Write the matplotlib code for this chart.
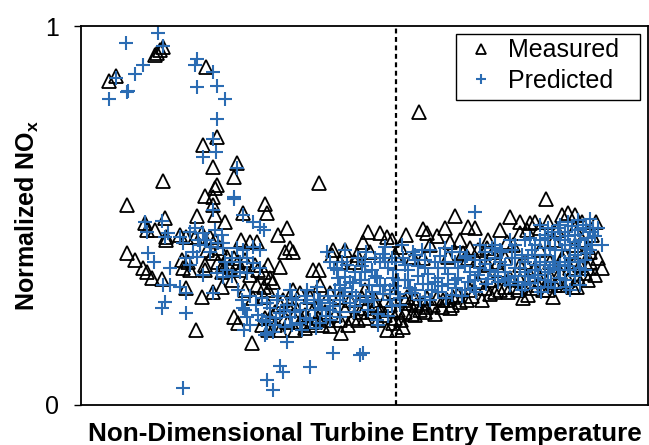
import numpy as np
import matplotlib; matplotlib.use("Agg")
import matplotlib.pyplot as plt
from matplotlib.patches import Rectangle

# x: non-dimensional TET (0-100 scale, axis unlabelled), y: normalized NOx
measured = np.array([
    (5.0, .856), (6.2, .868), (13.1, .923), (13.4, .929), (13.9, .937), (14.5, .945), (22.0, .893),
    (24.0, .706), (21.5, .686), (23.3, .629), (27.6, .639), (27.0, .601), (14.4, .592), (23.9, .580),
    (23.6, .573), (21.9, .551), (23.3, .549), (8.1, .528), (32.5, .530), (32.8, .506), (28.6, .506),
    (25.4, .484), (41.9, .585), (59.7, .774), (23.3, .528), (20.4, .499), (23.6, .501), (14.8, .493),
    (11.3, .479), (11.6, .462), (13.1, .462), (15.0, .444), (15.0, .435), (17.5, .449), (18.6, .444),
    (20.1, .444), (21.3, .453), (22.8, .444), (23.6, .435), (22.2, .409), (23.3, .400), (24.5, .413),
    (8.1, .400), (9.5, .383), (11.0, .361), (11.6, .352), (12.5, .334), (14.2, .332), (17.8, .383),
    (18.9, .378), (18.0, .361), (19.2, .356), (21.9, .369), (21.9, .356), (24.2, .378), (24.8, .352),
    (18.6, .308), (21.3, .286), (23.3, .299), (24.8, .312), (20.3, .198), (36.3, .466), (34.8, .449),
    (28.3, .435), (29.8, .431), (31.0, .431), (36.9, .413), (37.4, .404), (36.0, .404), (25.7, .391),
    (26.9, .387), (27.7, .378), (28.9, .383), (25.1, .369), (26.3, .365), (33.0, .369), (35.1, .365),
    (31.3, .356), (32.2, .352), (41.0, .356), (41.9, .356), (44.5, .409), (44.2, .396), (48.6, .396),
    (49.2, .369), (46.6, .409), (33.3, .334), (33.9, .325), (31.0, .317), (32.2, .312), (42.2, .317),
    (30.4, .282), (32.2, .286), (26.9, .233), (27.7, .216), (31.9, .211), (30.1, .164), (45.8, .189),
    (37.4, .303), (38.6, .295), (35.7, .277), (36.9, .268), (40.4, .286), (43.9, .295), (45.7, .286),
    (38.1, .251), (39.5, .237), (40.7, .245), (41.8, .230), (43.0, .245), (38.6, .219), (40.4, .211),
    (42.5, .211), (43.6, .224), (34.2, .245), (36.0, .230), (36.9, .251), (35.1, .264), (33.3, .230),
    (44.8, .237), (46.6, .251), (48.0, .230), (49.2, .245), (50.1, .230), (51.3, .245), (52.4, .224),
    (53.6, .237), (55.1, .216), (53.9, .198), (55.7, .198), (56.5, .224), (56.8, .207), (52.7, .251),
    (50.7, .457), (52.7, .453), (53.9, .444), (57.4, .449), (60.4, .464), (61.0, .453), (62.7, .446),
    (64.2, .466), (66.0, .499), (68.3, .470), (69.5, .466), (65.1, .431), (49.8, .431), (51.0, .404),
    (55.4, .396), (58.6, .391), (60.4, .387), (64.8, .391), (68.6, .413), (67.4, .400), (70.1, .409),
    (71.6, .413), (72.7, .404), (68.3, .387), (69.8, .383), (58.0, .269), (59.1, .264), (60.9, .259),
    (62.1, .264), (63.7, .259), (65.4, .264), (66.8, .272), (68.1, .277), (57.5, .285), (61.0, .282),
    (63.8, .277), (65.6, .285), (65.1, .255), (70.7, .277), (57.1, .245), (58.4, .240), (59.8, .251),
    (55.9, .251), (54.5, .264), (51.9, .277), (49.6, .282), (47.4, .277), (50.1, .303), (55.4, .298),
    (68.6, .303), (71.3, .309), (73.0, .298), (70.0, .325), (72.1, .330), (82.0, .543), (75.7, .495),
    (80.1, .484), (82.4, .484), (79.2, .479), (84.8, .501), (85.9, .506), (87.1, .501), (88.3, .484),
    (89.5, .418), (91.8, .361), (78.0, .282), (83.3, .286), (87.4, .312), (88.9, .347), (89.5, .361),
    (77.4, .453), (78.6, .462), (75.1, .431), (76.2, .422), (74.8, .311), (76.5, .311), (79.7, .309),
    (81.5, .303), (85.0, .317), (86.8, .311), (75.7, .335), (77.4, .330), (79.2, .343), (81.0, .330),
    (82.7, .340), (84.5, .351), (86.2, .361), (88.0, .369), (89.8, .377), (83.6, .317), (73.9, .356),
    (78.3, .377), (85.4, .396), (87.1, .422), (81.0, .409), (83.5, .435), (88.4, .435), (90.1, .449),
    (84.0, .462), (73.5, .377), (74.8, .388), (71.8, .369),
    (32.5, .230), (34.2, .211), (36.5, .219), (37.7, .198), (39.5, .203), (41.3, .219), (43.9, .208),
    (45.7, .224), (47.1, .211), (48.9, .224), (50.1, .256), (51.9, .264), (53.6, .277), (55.4, .230),
    (35.1, .198), (33.0, .198), (58.9, .282), (60.3, .269), (62.8, .282), (64.6, .277), (66.5, .290),
    (69.0, .288), (72.1, .293), (73.9, .303), (57.1, .277), (58.9, .237), (60.7, .245), (62.4, .240),
    (75.3, .298), (77.1, .303), (78.8, .290), (80.6, .317), (82.4, .303), (84.1, .325), (85.9, .330),
    (87.7, .335), (89.4, .330), (90.7, .343), (77.4, .369), (80.1, .361), (82.7, .377), (84.8, .388),
    (87.1, .377), (89.8, .404), (91.2, .388), (45.7, .377), (48.3, .377), (54.9, .435), (56.3, .417),
    (61.6, .422), (66.8, .435), (71.8, .435), (73.9, .462), (77.4, .483), (81.0, .467), (87.1, .467),
    (90.8, .483), (28.0, .356), (29.8, .343), (26.6, .330), (28.9, .303), (33.0, .303), (30.7, .369),
])

predicted = np.array([
    (13.6, .982), (7.9, .956), (14.4, .947), (20.5, .912), (20.1, .897), (23.3, .879), (11.0, .897),
    (9.6, .873), (6.2, .862), (8.3, .829), (8.1, .827), (4.9, .807), (20.4, .838), (23.9, .842),
    (25.4, .807), (23.9, .754), (23.3, .702), (23.8, .668), (21.5, .655), (27.6, .625), (27.0, .548),
    (23.3, .515), (28.6, .501), (11.3, .484), (14.2, .486), (11.6, .457), (14.8, .444), (15.4, .453),
    (19.2, .457), (20.1, .466), (21.6, .453), (22.2, .435), (21.0, .422), (23.0, .418), (24.2, .427),
    (25.1, .413), (19.8, .404), (20.4, .391), (18.6, .387), (19.2, .369), (18.0, .427), (17.5, .444),
    (11.9, .400), (12.8, .378), (15.7, .361), (21.6, .343), (23.9, .347), (25.1, .339), (14.5, .317),
    (15.7, .317), (17.5, .311), (18.6, .295), (23.3, .295), (14.8, .273), (14.2, .255), (18.6, .242),
    (18.0, .044), (28.6, .255), (29.2, .233), (32.5, .185), (26.9, .543), (30.4, .484), (31.6, .470),
    (32.2, .462), (24.8, .449), (25.1, .427), (27.5, .413), (28.6, .409), (30.4, .418), (31.6, .409),
    (29.2, .387), (30.4, .374), (31.6, .361), (25.7, .356), (28.0, .352), (29.2, .347), (27.7, .303),
    (43.3, .404), (46.6, .409), (45.1, .356), (46.6, .339), (48.0, .321), (49.2, .330), (41.6, .312),
    (39.8, .303), (36.9, .303), (32.8, .269), (34.5, .277), (36.3, .264), (38.0, .277), (39.8, .269),
    (42.2, .277), (43.9, .269), (45.7, .277), (47.4, .269), (49.2, .277), (28.9, .251), (33.3, .232),
    (35.1, .243), (36.9, .232), (38.6, .216), (40.4, .224), (42.2, .216), (43.9, .224), (45.7, .232),
    (31.9, .224), (34.2, .211), (37.7, .245), (41.3, .251), (36.0, .206), (32.8, .189), (33.9, .193),
    (36.3, .167), (44.5, .138), (49.2, .132), (35.1, .103), (35.7, .088), (40.4, .101), (32.8, .066),
    (33.9, .040), (50.1, .377), (51.3, .356), (52.7, .377), (54.1, .361), (55.4, .377), (49.4, .330),
    (50.8, .317), (52.2, .335), (53.6, .317), (55.0, .335), (50.3, .288), (51.7, .277), (53.2, .293),
    (54.5, .277), (55.9, .293), (50.6, .251), (52.4, .240), (54.1, .235), (53.6, .416), (46.9, .369),
    (45.7, .317), (47.8, .298), (48.3, .351), (44.8, .303), (43.9, .377), (52.2, .224), (49.8, .136),
    (52.4, .211), (58.6, .404), (60.1, .409), (69.5, .510), (57.1, .369), (58.9, .383), (60.7, .361),
    (62.4, .377), (64.2, .361), (66.0, .377), (67.7, .367), (69.5, .383), (71.3, .372), (73.0, .388),
    (57.7, .330), (59.4, .340), (61.2, .319), (63.0, .335), (64.7, .319), (66.5, .335), (68.3, .325),
    (70.0, .343), (71.8, .332), (73.5, .351), (58.4, .296), (60.7, .285), (63.0, .298), (65.4, .290),
    (67.7, .303), (56.3, .264), (59.8, .277), (61.6, .409), (64.2, .414), (66.8, .404), (70.4, .422),
    (73.0, .422), (56.6, .422), (54.9, .388), (73.9, .410), (89.8, .490), (91.8, .422), (88.9, .383),
    (89.2, .400), (89.5, .440), (85.6, .312), (86.2, .303), (80.6, .308), (81.2, .299), (74.8, .369),
    (76.0, .388), (77.4, .361), (78.8, .388), (80.2, .369), (81.8, .396), (83.2, .377), (84.8, .409),
    (86.2, .388), (87.7, .414), (75.3, .335), (77.1, .325), (78.8, .340), (80.6, .343), (82.4, .351),
    (84.1, .356), (85.9, .367), (87.7, .377), (76.5, .422), (78.3, .435), (80.1, .422), (81.8, .449),
    (83.6, .441), (85.4, .457), (87.1, .449), (88.5, .467), (82.4, .467), (81.0, .475), (84.5, .475),
    (86.6, .472), (89.8, .456), (91.2, .467), (74.2, .404), (79.5, .409), (77.8, .303), (82.9, .325),
    (82.4, .311), (79.2, .441), (75.7, .435),
    (28.4, .277), (29.8, .288), (30.9, .264), (31.9, .282), (33.3, .256), (34.7, .288), (35.8, .251),
    (37.2, .282), (38.6, .251), (39.7, .230), (41.1, .277), (42.5, .256), (43.6, .288), (31.2, .237),
    (32.6, .219), (34.4, .230), (37.2, .211), (39.0, .198), (41.4, .203), (43.2, .235), (29.8, .211),
    (28.7, .198), (44.6, .361), (46.0, .377), (48.9, .388), (50.3, .404), (51.9, .388), (53.3, .398),
    (45.3, .335), (47.4, .325), (48.5, .288), (50.0, .351), (51.3, .298), (52.7, .314), (54.5, .303),
    (55.9, .330), (44.4, .261), (46.2, .288), (48.3, .261), (50.6, .272), (54.9, .261), (56.3, .282),
    (55.6, .356), (56.8, .388), (45.7, .245), (48.1, .245), (57.7, .356), (59.4, .367), (61.2, .346),
    (63.0, .361), (64.7, .346), (66.5, .361), (68.6, .351), (70.4, .361), (72.1, .356), (58.0, .309),
    (60.4, .319), (61.9, .303), (63.7, .314), (66.1, .309), (69.3, .309), (71.4, .319), (73.5, .325),
    (58.9, .396), (63.3, .393), (65.4, .404), (68.1, .393), (71.3, .404), (61.6, .277), (64.4, .282),
    (67.2, .288), (69.7, .298), (73.9, .377), (72.5, .414), (74.8, .351), (76.5, .361), (78.3, .351),
    (80.1, .356), (81.8, .369), (83.6, .377), (85.4, .377), (87.1, .396), (76.0, .409), (77.8, .396),
    (81.0, .435), (82.7, .414), (84.5, .435), (86.2, .422), (88.0, .435), (83.1, .457), (85.9, .446),
    (87.7, .462), (89.1, .475), (90.1, .422), (90.7, .446), (75.7, .317), (79.2, .322), (81.8, .330),
    (84.5, .335), (87.1, .340), (88.9, .356), (89.8, .409), (21.9, .435), (22.8, .404), (20.6, .435),
    (23.6, .462), (25.4, .377), (26.6, .340), (28.0, .377), (26.6, .388),
    (81.8, .414), (83.6, .409), (85.4, .422), (87.1, .430), (88.9, .414), (81.0, .377), (82.7, .361),
    (84.5, .369), (86.2, .356), (88.0, .361), (82.3, .441), (84.1, .467), (85.9, .483), (87.7, .488),
    (90.3, .467), (76.5, .388), (78.3, .377), (80.1, .396), (74.8, .330), (76.5, .340), (78.3, .317),
    (80.1, .335), (83.6, .309), (85.4, .330), (88.0, .317), (57.1, .330), (58.9, .303), (60.7, .383),
    (62.4, .325), (64.2, .377), (65.9, .330), (67.7, .388), (69.5, .330), (71.3, .383), (73.0, .340),
    (46.6, .309), (49.6, .366), (51.9, .340), (53.6, .377), (55.4, .314), (43.9, .251), (41.8, .277),
    (39.5, .288),
])

design_point = 55.6  # dashed vertical marker

plt.rcParams["font.family"] = ["Liberation Sans", "DejaVu Sans"]
plt.rcParams["mathtext.fontset"] = "custom"
plt.rcParams["mathtext.rm"] = "Liberation Sans"
plt.rcParams["mathtext.bf"] = "Liberation Sans:bold"

fig = plt.figure(figsize=(6.49, 4.45), dpi=100)
ax = fig.add_axes([81 / 649, 1 - 405 / 445, 567 / 649, 379 / 445])

ax.plot(measured[:, 0], measured[:, 1], "^", ms=10, mfc="none", mec="black", mew=1.3,
        ls="none", label="Measured")
ax.plot(predicted[:, 0], predicted[:, 1], "+", ms=9.5, mec="#2B6CB3", mew=1.5,
        ls="none", label="Predicted")
ax.axvline(design_point, color="black", ls=(0, (2.2, 1.6)), lw=1.6)

ax.set_xlim(0, 100); ax.set_ylim(0, 1)
ax.set_xticks([]); ax.set_yticks([0, 1]); ax.set_yticklabels(["0", "1"])
ax.tick_params(axis="y", direction="out", length=5, width=1, pad=11, labelsize=18)
for s in ax.spines.values():
    s.set_linewidth(1.3)

ax.set_ylabel("Normalized NO$_\\mathbf{x}$", fontsize=18, fontweight="bold", labelpad=3)
ax.set_xlabel("Non-Dimensional Turbine Entry Temperature", fontsize=18.8, fontweight="bold",
              labelpad=12)

# legend box drawn separately so its padding matches the original
ax.add_patch(Rectangle((0.661, 0.805), 0.325, 0.174, transform=ax.transAxes, fc="white",
                       ec="black", lw=1.0, zorder=4))
leg = ax.legend(loc="upper left", bbox_to_anchor=(0.661, 0.974), borderaxespad=0,
                fontsize=18, frameon=False, handlelength=1.8, handletextpad=0.2,
                borderpad=0.1, labelspacing=0.26, markerscale=0.75)
leg.set_zorder(5)

fig.savefig("out.png", dpi=100)
